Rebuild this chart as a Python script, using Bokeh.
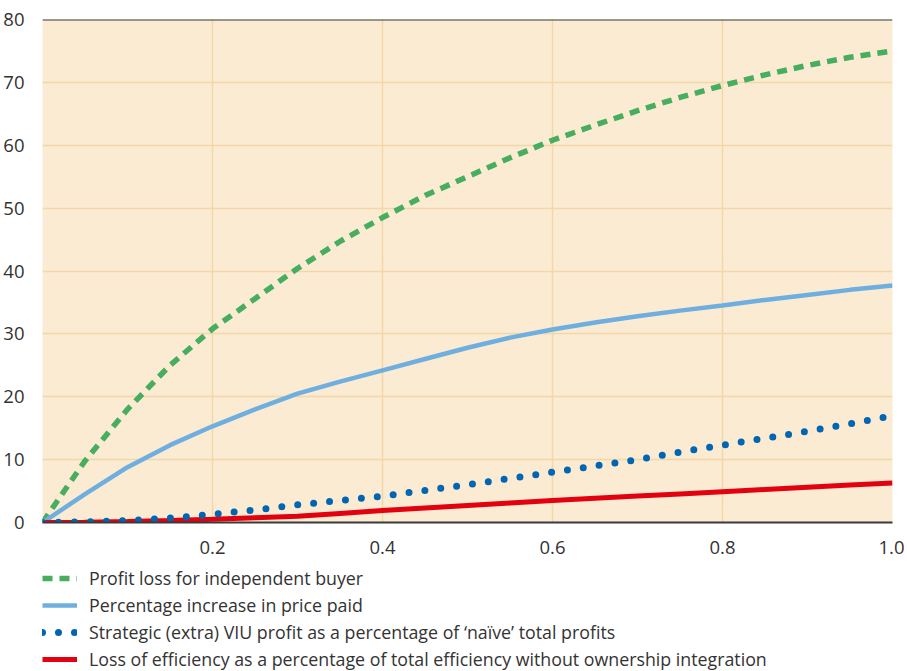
from bokeh.plotting import figure
from bokeh.layouts import column
from bokeh.models import Range1d, FixedTicker, Span, Legend, LegendItem
from bokeh.embed import file_html
from bokeh.resources import INLINE

x = [0.0, 0.05, 0.1, 0.15, 0.2, 0.25, 0.3, 0.35, 0.4, 0.45, 0.5,
     0.55, 0.6, 0.65, 0.7, 0.75, 0.8, 0.85, 0.9, 0.95, 1.0]
profit_loss = [0, 9.8, 18, 25, 30.8, 35.6, 40.4, 44.7, 48.5, 52, 55,
               58, 60.8, 63.2, 65.5, 67.6, 69.5, 71.2, 72.7, 74, 75]
price_increase = [0, 4.5, 8.8, 12.3, 15.3, 18, 20.5, 22.4, 24.2, 26.0, 27.8,
                  29.4, 30.7, 31.8, 32.8, 33.7, 34.5, 35.4, 36.2, 37, 37.7]
strategic_profit = [0, 0.1, 0.3, 0.7, 1.3, 2.0, 2.8, 3.5, 4.2, 5.1, 6.0,
                    7.0, 8.0, 9.0, 10.0, 11.2, 12.3, 13.4, 14.5, 15.7, 17]
efficiency_loss = [0, 0.05, 0.15, 0.3, 0.5, 0.75, 1.0, 1.45, 1.9, 2.3, 2.7,
                   3.1, 3.5, 3.85, 4.2, 4.55, 4.9, 5.25, 5.6, 5.95, 6.3]

labels = ["Profit loss for independent buyer",
          "Percentage increase in price paid",
          "Strategic (extra) VIU profit as a percentage of \u2018na\u00efve\u2019 total profits",
          "Loss of efficiency as a percentage of total efficiency without ownership integration"]
x_ticks = [0.2, 0.4, 0.6, 0.8, 1.0]
x_tick_labels = ["0.2", "0.4", "0.6", "0.8", "1.0"]
y_ticks = [0, 10, 20, 30, 40, 50, 60, 70, 80]
series = [profit_loss, price_increase, strategic_profit, efficiency_loss]

FONT = "Open Sans"
TXT = "#333333"

styles = [dict(line_color="#47ae5f", line_width=5.5, line_dash="10 7"),
          dict(line_color="#6eafe0", line_width=4.5),
          dict(line_color="#0066b3", line_width=7, line_dash="0 16", line_cap="round"),
          dict(line_color="#e3000f", line_width=5)]

p = figure(width=899, height=560, frame_width=850, frame_height=503,
           output_backend="svg", toolbar_location=None,
           x_range=Range1d(0, 1), y_range=Range1d(0, 80),
           min_border_left=37, min_border_top=19, min_border_right=12,
           min_border_bottom=38)
p.background_fill_color = "#fbebd3"
p.border_fill_color = "white"
p.outline_line_color = None

p.xgrid.ticker = FixedTicker(ticks=[0.2, 0.4, 0.6, 0.8])
p.ygrid.ticker = FixedTicker(ticks=y_ticks[1:-1])
for g in (p.xgrid, p.ygrid):
    g.grid_line_color = "#f1d8a6"
    g.grid_line_width = 1.5

p.xaxis.ticker = FixedTicker(ticks=x_ticks)
p.xaxis.major_label_overrides = dict(zip(x_ticks, x_tick_labels))
p.yaxis.ticker = FixedTicker(ticks=y_ticks)
for ax in (p.xaxis, p.yaxis):
    ax.major_tick_line_color = None
    ax.minor_tick_line_color = None
    ax.major_label_text_font = FONT
    ax.major_label_text_font_size = "18.5px"
    ax.major_label_text_color = TXT
p.yaxis.axis_line_color = None
p.yaxis.major_label_standoff = 12
p.xaxis.major_label_standoff = 12
p.xaxis.axis_line_color = "#3a3a3a"
p.xaxis.axis_line_width = 2

p.add_layout(Span(location=80, dimension="width", line_color="#3a3a3a", line_width=2))

for i in (0, 1, 3, 2):
    p.line(x, series[i], **styles[i])

# legend panel below the chart (its lines lie outside its visible range)
lg = figure(width=899, height=111, output_backend="svg", toolbar_location=None,
            x_range=Range1d(0, 1), y_range=Range1d(1000, 1001),
            min_border_left=37, min_border_top=0, min_border_right=12,
            min_border_bottom=0)
lg.axis.visible = False
lg.grid.visible = False
lg.outline_line_color = None
lg.background_fill_color = "white"
legend_renderers = [lg.line(x, s, **st) for s, st in zip(series, styles)]
legend = Legend(items=[LegendItem(label=l, renderers=[r])
                       for l, r in zip(labels, legend_renderers)],
                orientation="vertical", location=(0, 0),
                label_text_font=FONT, label_text_font_size="17.8px",
                label_text_color=TXT, glyph_width=35, glyph_height=20,
                label_height=20, spacing=3, padding=0, margin=0,
                label_standoff=12, border_line_color=None,
                background_fill_alpha=0)
lg.add_layout(legend)

layout = column(p, lg, spacing=0)
open("out.html", "w").write(file_html(layout, INLINE))
